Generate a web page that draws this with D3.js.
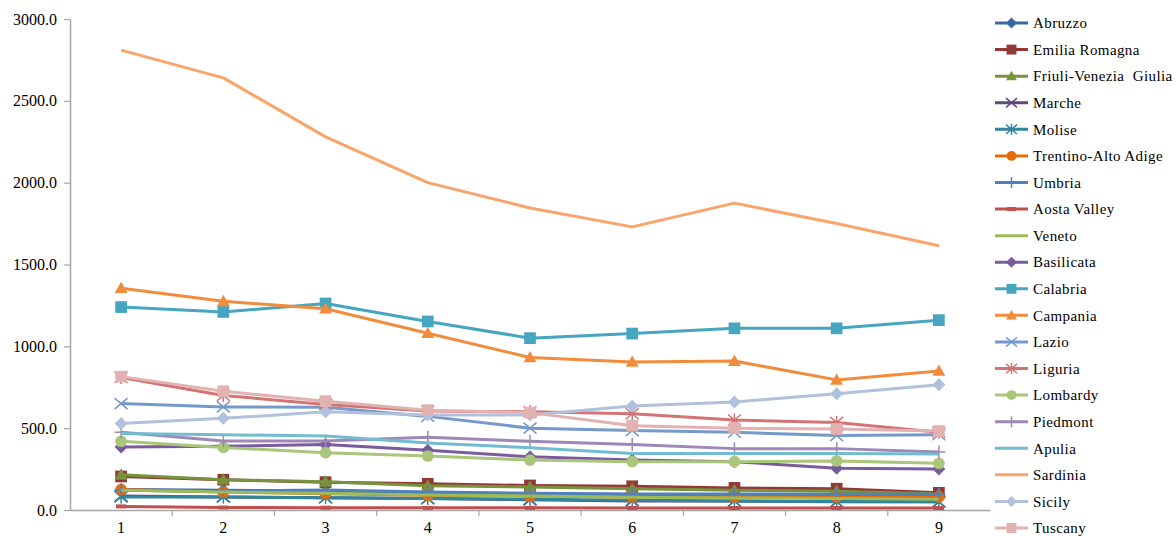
<!DOCTYPE html>
<html>
<head>
<meta charset="utf-8">
<script src="https://cdn.jsdelivr.net/npm/d3@7"></script>
<style>
  html, body { margin: 0; padding: 0; background: #fff; }
  svg { display: block; }
  text { font-family: "Liberation Serif", "Times New Roman", serif; fill: #000; }
</style>
</head>
<body>
<svg id="chart" width="1176" height="536"></svg>
<script>
// Categories along the x axis
const categories = ["1", "2", "3", "4", "5", "6", "7", "8", "9"];

// Y axis tick values
const yTicks = [0, 500, 1000, 1500, 2000, 2500, 3000];

// Region names, in legend order
const regions = [
  "Abruzzo", "Emilia Romagna", "Friuli-Venezia  Giulia", "Marche", "Molise",
  "Trentino-Alto Adige", "Umbria", "Aosta Valley", "Veneto", "Basilicata",
  "Calabria", "Campania", "Lazio", "Liguria", "Lombardy", "Piedmont",
  "Apulia", "Sardinia", "Sicily", "Tuscany"
];

// Values per region
const abruzzo       = [125, 120, 115, 105, 100, 95, 95, 90, 90];
const emiliaRomagna = [205, 185, 170, 160, 150, 145, 135, 130, 105];
const friuli        = [215, 185, 172, 148, 140, 130, 120, 115, 98];
const marche        = [85, 80, 75, 70, 62, 55, 55, 50, 50];
const molise        = [80, 80, 75, 70, 65, 60, 55, 52, 50];
const trentino      = [125, 110, 100, 90, 85, 80, 80, 80, 80];
const umbria        = [120, 115, 122, 110, 102, 98, 98, 96, 96];
const aostaValley   = [22, 15, 14, 13, 13, 12, 12, 12, 12];
const veneto        = [120, 110, 102, 92, 85, 78, 74, 70, 65];
const basilicata    = [385, 390, 400, 365, 325, 305, 295, 255, 250];
const calabria      = [1240, 1210, 1262, 1152, 1050, 1078, 1110, 1110, 1160];
const campania      = [1355, 1275, 1230, 1080, 932, 905, 910, 795, 850];
const lazio         = [650, 630, 628, 572, 500, 485, 475, 455, 460];
const liguria       = [810, 700, 645, 605, 600, 588, 550, 535, 475];
const lombardy      = [420, 382, 350, 330, 305, 295, 295, 300, 285];
const piedmont      = [475, 422, 422, 445, 420, 400, 375, 375, 355];
const apulia        = [468, 460, 452, 410, 380, 345, 345, 345, 342];
const sardinia      = [2810, 2640, 2280, 2000, 1845, 1730, 1875, 1750, 1615];
const sicily        = [528, 560, 600, 580, 580, 635, 660, 710, 765];
const tuscany       = [815, 725, 665, 610, 595, 515, 500, 495, 482];

const seriesValues = [
  abruzzo, emiliaRomagna, friuli, marche, molise, trentino, umbria, aostaValley,
  veneto, basilicata, calabria, campania, lazio, liguria, lombardy, piedmont,
  apulia, sardinia, sicily, tuscany
];

// Line colours and marker styles per series
const colors = [
  "#3A68A6", "#953735", "#77933C", "#604A7B", "#31859C", "#E46C0A", "#4F81BD",
  "#C0504D", "#9BBB59", "#7A5C9E", "#46A5BF", "#F08C3C", "#7599CB", "#D27474",
  "#A9C67A", "#9D88B8", "#72BBD0", "#F9A46B", "#AFC1DC", "#E2B1B1"
];
const markers = [
  "diamond", "square", "triangle", "x", "asterisk", "circle", "plus", "dash",
  "none", "diamond", "square", "triangle", "x", "asterisk", "circle", "plus",
  "none", "none", "diamond", "square"
];

const FONT = "'Liberation Serif', 'Times New Roman', serif";

const svg = d3.select("#chart");

const plot = { left: 70, right: 990, top: 19, bottom: 510 };

const x = d3.scaleBand().domain(categories).range([plot.left, plot.right]).padding(0);
const y = d3.scaleLinear().domain([0, 3000]).range([plot.bottom, plot.top]);
const cx = c => x(c) + x.bandwidth() / 2;

const axisColor = "#A6A6A6";

// Y axis
const yAxis = svg.append("g")
  .attr("transform", `translate(${plot.left},0)`)
  .call(d3.axisLeft(y).tickValues(yTicks).tickFormat(d3.format(".1f")).tickSize(6).tickPadding(7).tickSizeOuter(0))
  .attr("font-family", FONT);
yAxis.select(".domain").attr("stroke", axisColor).attr("stroke-width", 1.5);
yAxis.selectAll(".tick line").attr("stroke", axisColor).attr("stroke-width", 1.2);
yAxis.selectAll(".tick text").style("font-size", "16px").style("font-family", FONT).attr("fill", "#000");

// X axis: labels at category centres, tick marks at category boundaries
const xAxis = svg.append("g")
  .attr("transform", `translate(0,${plot.bottom})`)
  .call(d3.axisBottom(x).tickSize(0).tickPadding(12).tickSizeOuter(0))
  .attr("font-family", FONT);
xAxis.select(".domain").attr("stroke", axisColor).attr("stroke-width", 1.5);
xAxis.selectAll(".tick text").style("font-size", "16px").style("font-family", FONT).attr("fill", "#000");
xAxis.selectAll("line.bound")
  .data(categories.slice(1))
  .enter().append("line")
  .attr("class", "bound")
  .attr("x1", d => x(d)).attr("x2", d => x(d))
  .attr("y1", 0).attr("y2", 6)
  .attr("stroke", axisColor).attr("stroke-width", 1.2);

// Marker drawing
function drawMarker(g, type, color, s) {
  switch (type) {
    case "diamond":
      g.append("path").attr("d", `M0,${-s}L${s},0L0,${s}L${-s},0Z`).attr("fill", color);
      break;
    case "square":
      g.append("rect").attr("x", -s * 0.9).attr("y", -s * 0.9)
        .attr("width", s * 1.8).attr("height", s * 1.8).attr("fill", color);
      break;
    case "triangle":
      g.append("path").attr("d", `M0,${-s}L${s},${s * 0.75}L${-s},${s * 0.75}Z`).attr("fill", color);
      break;
    case "circle":
      g.append("circle").attr("r", s * 0.9).attr("fill", color);
      break;
    case "x":
      g.append("path").attr("d", `M${-s},${-s * 0.85}L${s},${s * 0.85}M${-s},${s * 0.85}L${s},${-s * 0.85}`)
        .attr("stroke", color).attr("stroke-width", 1.5).attr("fill", "none");
      break;
    case "asterisk":
      g.append("path").attr("d", `M${-s},${-s * 0.85}L${s},${s * 0.85}M${-s},${s * 0.85}L${s},${-s * 0.85}M0,${-s}L0,${s}`)
        .attr("stroke", color).attr("stroke-width", 1.5).attr("fill", "none");
      break;
    case "plus":
      g.append("path").attr("d", `M0,${-s}L0,${s}M${-s},0L${s},0`)
        .attr("stroke", color).attr("stroke-width", 1.5).attr("fill", "none");
      break;
    case "dash":
      g.append("path").attr("d", `M${-s * 0.8},0L${s * 0.8},0`)
        .attr("stroke", color).attr("stroke-width", 4).attr("fill", "none");
      break;
  }
}

const line = d3.line().x((d, i) => cx(categories[i])).y(d => y(d));

// Series lines and markers
const seriesG = svg.append("g");
seriesValues.forEach((vals, si) => {
  const g = seriesG.append("g");
  g.append("path")
    .datum(vals)
    .attr("d", line)
    .attr("fill", "none")
    .attr("stroke", colors[si])
    .attr("stroke-width", 3)
    .attr("stroke-linejoin", "round");
  vals.forEach((v, i) => {
    const m = g.append("g").attr("transform", `translate(${cx(categories[i])},${y(v)})`);
    drawMarker(m, markers[si], colors[si], 6.5);
  });
});

// Legend
const legend = svg.append("g");
const legendY = d3.scalePoint().domain(regions).range([23, 528]);
regions.forEach((name, si) => {
  const row = legend.append("g").attr("transform", `translate(995,${legendY(name)})`);
  row.append("line").attr("x1", 0).attr("x2", 33).attr("y1", 0).attr("y2", 0)
    .attr("stroke", colors[si]).attr("stroke-width", 3);
  const m = row.append("g").attr("transform", "translate(16.5,0)");
  drawMarker(m, markers[si], colors[si], 5.5);
  row.append("text").attr("x", 38).attr("y", 0).attr("dy", "0.35em")
    .style("font-family", FONT).style("white-space", "pre")
    .style("font-size", "15px").style("letter-spacing", "0.4px").text(name);
});
</script>
</body>
</html>
